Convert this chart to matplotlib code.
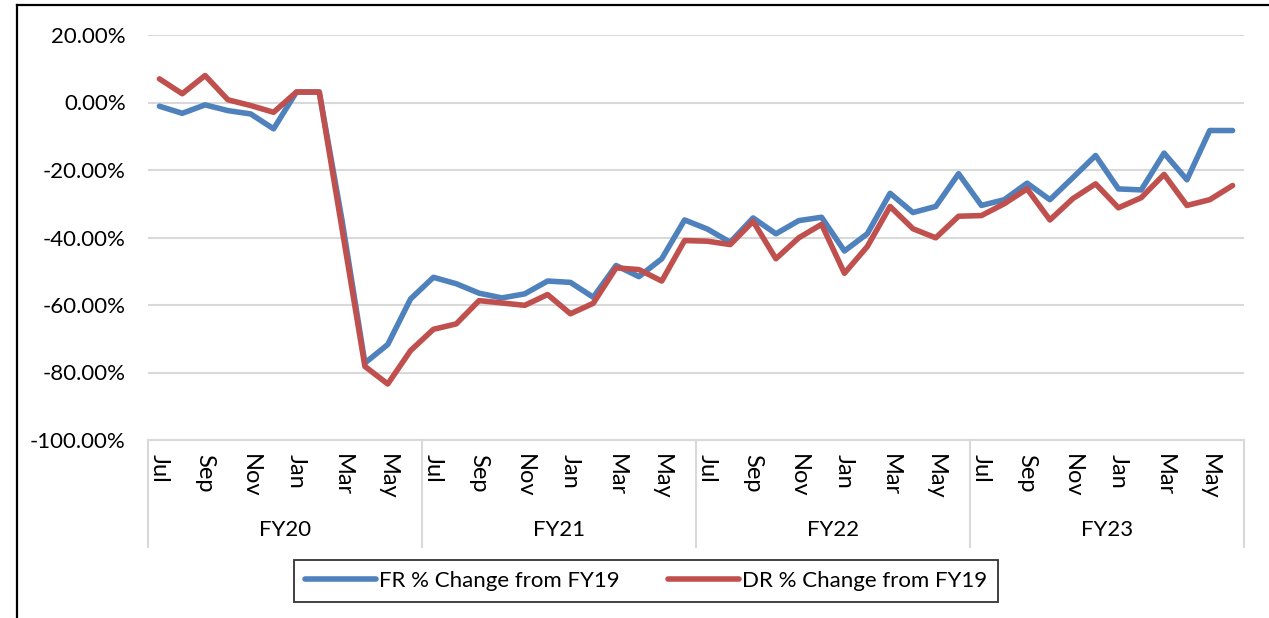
import matplotlib
matplotlib.use("Agg")
import matplotlib.pyplot as plt
from matplotlib.lines import Line2D
import matplotlib.transforms as mtransforms

plt.rcParams['font.family'] = ['Lato', 'DejaVu Sans']

months = ["Jul", "Aug", "Sep", "Oct", "Nov", "Dec", "Jan", "Feb", "Mar", "Apr", "May", "Jun"]
fiscal_years = ["FY20", "FY21", "FY22", "FY23"]

fr_change = [-1.1, -3.2, -0.7, -2.4, -3.4, -7.8, 3.1, 3.1, -35.0, -77.2, -71.7, -58.2,
             -51.8, -53.7, -56.5, -57.9, -56.7, -52.9, -53.3, -57.7, -48.3, -51.6, -46.3, -34.8,
             -37.5, -41.4, -34.2, -38.9, -35.0, -34.0, -44.0, -38.9, -26.9, -32.6, -30.8, -21.1,
             -30.5, -28.8, -23.9, -28.8, -22.3, -15.7, -25.6, -25.9, -15.0, -22.9, -8.3, -8.3]
dr_change = [7.0, 2.6, 8.0, 0.8, -0.9, -2.9, 3.1, 3.1, -37.5, -78.2, -83.4, -73.5,
             -67.2, -65.6, -58.7, -59.4, -60.1, -56.9, -62.6, -59.5, -49.0, -49.5, -52.9, -40.9,
             -41.1, -42.1, -35.2, -46.3, -40.1, -36.1, -50.6, -42.7, -30.8, -37.4, -40.1, -33.7,
             -33.5, -30.0, -25.6, -34.8, -28.5, -24.1, -31.2, -28.2, -21.3, -30.5, -28.8, -24.6]
y_ticks = [20, 0, -20, -40, -60, -80, -100]

W, H = 1269, 618
fig = plt.figure(figsize=(W / 100, H / 100), dpi=100)

def fx(px):
    return px / W

def fy(py):
    return 1 - py / H

left, right, top, bottom = 148, 1244, 35, 440
ax = fig.add_axes([fx(left), fy(bottom), fx(right - left), (bottom - top) / H])

n = len(fr_change)
x = list(range(n))
blue = "#4F81BD"
red = "#C0504D"
ax.plot(x, fr_change, color=blue, lw=4.0, solid_joinstyle='round', solid_capstyle='round',
        label="FR % Change from FY19", zorder=3)
ax.plot(x, dr_change, color=red, lw=4.0, solid_joinstyle='round', solid_capstyle='round',
        label="DR % Change from FY19", zorder=4)

ax.set_xlim(-0.5, n - 0.5)
ax.set_ylim(-100, 20)
ax.set_yticks(y_ticks)
ax.set_yticklabels([f"{v:.2f}%" for v in y_ticks], fontsize=16)
ax.yaxis.grid(True, color="#D9D9D9", lw=1.5)
ax.set_axisbelow(True)
for s in ["top", "right", "left"]:
    ax.spines[s].set_visible(False)
ax.spines["bottom"].set_color("#D9D9D9")
ax.spines["bottom"].set_linewidth(1.5)
ax.tick_params(axis='y', length=0, pad=16)

tick_pos = list(range(0, n, 2))
tick_labels = [months[i % 12] for i in tick_pos]
ax.set_xticks(tick_pos)
ax.set_xticklabels(tick_labels, rotation=-90, fontsize=17, va='top', ha='center')
ax.tick_params(axis='x', length=0, pad=10)

trans = mtransforms.blended_transform_factory(ax.transData, ax.transAxes)
sep_bottom = -(547 - bottom) / (bottom - top)
for k in range(len(fiscal_years) + 1):
    xs = k * 12 - 0.5
    ax.add_line(Line2D([xs, xs], [0, sep_bottom], transform=trans, color="#D9D9D9",
                       lw=1.5, clip_on=False))
fy_y = -(530 - bottom) / (bottom - top)
for k, name in enumerate(fiscal_years):
    ax.text(k * 12 + 5.5, fy_y, name, transform=trans, ha='center', va='center', fontsize=16)

leg = fig.legend(loc='center', bbox_to_anchor=(fx(646), fy(581)), ncol=2, fontsize=16,
                 frameon=True, fancybox=False, handlelength=3.2, columnspacing=2.2,
                 handletextpad=0.1, borderpad=0.5, borderaxespad=0)
leg.get_frame().set_edgecolor("black")
leg.get_frame().set_linewidth(1.3)

# outer chart border (top and left visible)
fig.add_artist(Line2D([fx(17), 1], [fy(5), fy(5)], color="black", lw=1.6))
fig.add_artist(Line2D([fx(17), fx(17)], [fy(5), 0], color="black", lw=1.6))

fig.savefig("out.png", dpi=100)
